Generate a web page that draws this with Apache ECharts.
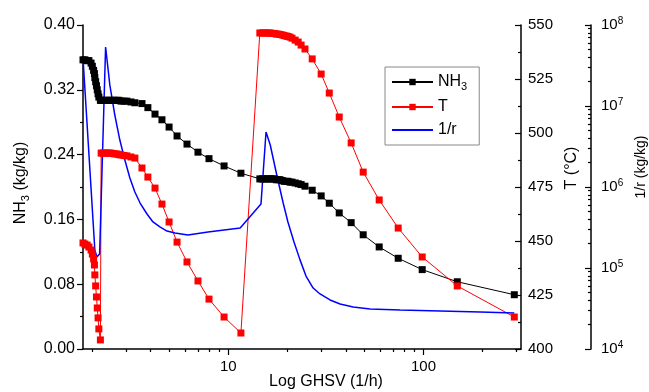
<!DOCTYPE html>
<html><head><meta charset="utf-8">
<script src="https://cdn.jsdelivr.net/npm/echarts@6/dist/echarts.min.js"></script>
<style>html,body{margin:0;padding:0;background:#fff}#c{width:649px;height:392px}</style>
</head><body><div id="c"></div>
<script>
// Shared GHSV values (1/h) for NH3 and T markers
const ghsv = [1.80, 1.84, 1.89, 1.93, 1.98, 2.01, 2.04, 2.06, 2.07, 2.09, 2.11, 2.13, 2.15, 2.17, 2.21,
  2.23, 2.28, 2.33, 2.39, 2.45, 2.50, 2.56, 2.62, 2.69, 2.75, 2.82, 2.92, 3.02, 3.17, 3.32, 3.61, 3.87, 4.21, 4.57, 4.97, 5.46, 6.14, 6.99, 7.96, 9.51, 11.6,
  14.5, 14.9, 15.2, 15.6, 16.0, 16.4, 16.8, 17.2, 17.6, 18.0, 18.4, 18.9, 19.3, 19.8, 20.2, 20.7, 21.2, 22.0, 22.8, 23.6, 24.7, 26.9, 29.9, 32.9, 37.0, 42.6, 49.1, 59.3, 74.2, 98.5, 149, 292];
const nh3 = [0.357, 0.357, 0.356, 0.356, 0.353, 0.349, 0.344, 0.340, 0.335, 0.330, 0.325, 0.320, 0.315, 0.311, 0.307,
  0.307, 0.307, 0.307, 0.307, 0.307, 0.307, 0.307, 0.307, 0.307, 0.307, 0.306, 0.306, 0.306, 0.305, 0.304, 0.303, 0.298, 0.290, 0.283, 0.274, 0.263, 0.253, 0.243, 0.235, 0.226, 0.217,
  0.210, 0.210, 0.210, 0.210, 0.210, 0.210, 0.210, 0.210, 0.209, 0.209, 0.209, 0.208, 0.207, 0.207, 0.207, 0.206, 0.206, 0.205, 0.204, 0.203, 0.201, 0.196, 0.189, 0.180, 0.168, 0.156, 0.141, 0.126, 0.112, 0.098, 0.083, 0.067];
const temp = [449.1, 448.6, 448.1, 447.2, 445.8, 443.9, 441.7, 438.9, 434.3, 429.2, 424.1, 419.0, 414.4, 409.3, 404.2,
  490.7, 490.7, 490.7, 490.7, 490.7, 490.7, 490.5, 490.3, 490.3, 490.0, 489.8, 489.6, 489.4, 488.9, 488.4, 483.8, 479.6, 474.5, 467.1, 458.8, 449.5, 440.3, 431.5, 423.1, 414.8, 407.4,
  546.3, 546.3, 546.3, 546.3, 546.3, 546.3, 546.1, 546.1, 545.8, 545.8, 545.6, 545.4, 545.1, 544.9, 544.7, 544.4, 543.9, 543.0, 542.1, 540.7, 538.9, 534.3, 527.3, 518.5, 507.4, 495.4, 481.9, 469.0, 456.0, 442.6, 429.2, 414.8];
// 1/r curve
const rGhsv = [1.80, 2.07, 2.12, 2.19, 2.35, 2.47, 2.62, 2.78, 2.95, 3.13, 3.32, 3.53, 3.83, 4.11, 4.46, 4.85, 5.33, 6.21, 7.87, 11.5,
  14.7, 15.6, 16.4, 17.8, 19.1, 20.2, 21.7, 23.3, 25.0, 27.2, 29.5, 33.2, 37.4, 43.6, 53.3, 75.9, 122, 195, 292];
const rInv = [3.92e7, 1.67e5, 1.37e5, 1.49e5, 5.35e7, 1.82e7, 7.74e6, 3.80e6, 2.15e6, 1.29e6, 8.67e5, 6.34e5, 4.64e5, 3.70e5, 3.21e5, 2.86e5, 2.71e5, 2.55e5, 2.78e5, 3.12e5,
  6.17e5, 4.78e6, 3.30e6, 1.33e6, 6.34e5, 3.70e5, 2.09e5, 1.26e5, 7.96e4, 5.66e4, 4.78e4, 4.03e4, 3.59e4, 3.30e4, 3.12e4, 3.03e4, 2.94e4, 2.86e4, 2.78e4];

const xMin = 1.8, xMax = 316;
const xMajorTicks = [10, 100];
const xMinorTicks = [2, 3, 4, 5, 6, 7, 8, 9, 20, 30, 40, 50, 60, 70, 80, 90, 200, 300];
const rMin = 1e4, rMax = 1e8;
const rMinorTicks = [];
for (let e = 4; e < 8; e++) for (let m = 2; m <= 9; m++) rMinorTicks.push(m * Math.pow(10, e));

const F = '"Liberation Sans", Arial, sans-serif';
const L = Math.log10;
const black = '#000';
const subStyle = { fontSize: 11, fontFamily: F, color: black, verticalAlign: 'bottom', padding: [9, 0, 0, 0] };
const supStyle = { fontSize: 10, fontFamily: F, color: black, verticalAlign: 'top', padding: [0, 0, 8, 0] };

const chart = echarts.init(document.getElementById('c'));
const axLine = { show: true, onZero: false, lineStyle: { color: black, width: 1.5 } };
const tick = (inside, len) => ({ show: true, inside: inside, length: len, lineStyle: { color: black, width: 1.2 } });

chart.setOption({
  animation: false,
  backgroundColor: '#fff',
  grid: { left: 83, right: 128, top: 25, bottom: 43, containLabel: false, outerBoundsMode: 'none' },
  legend: {
    orient: 'vertical', left: 385, top: 67,
    padding: [7, 12, 7, 6], itemGap: 7, itemWidth: 41, itemHeight: 8,
    borderColor: '#888', borderWidth: 1,
    textStyle: { fontSize: 16, fontFamily: F, color: black, rich: { sub: subStyle } },
    formatter: n => n === 'NH3' ? 'NH{sub|3}' : n,
    data: ['NH3', 'T', { name: '1/r', itemStyle: { opacity: 0 } }]
  },
  xAxis: [
    { type: 'log', min: xMin, max: xMax, show: false, position: 'bottom' },
    { type: 'value', min: L(xMin), max: L(xMax), position: 'bottom',
      axisLine: axLine, splitLine: { show: false },
      axisTick: Object.assign(tick(false, 6), { customValues: xMajorTicks.map(L) }),
      axisLabel: { customValues: xMajorTicks.map(L), formatter: v => String(Math.round(Math.pow(10, v))),
        fontSize: 15, fontFamily: F, color: black, margin: 10 },
      name: 'Log GHSV (1/h)', nameLocation: 'middle', nameGap: 25, nameMoveOverlap: false,
      nameTextStyle: { fontSize: 16, fontFamily: F, color: black, padding: [0, 0, 0, 48] } },
    { type: 'value', min: L(xMin), max: L(xMax), position: 'bottom',
      axisLine: { show: false }, splitLine: { show: false }, axisLabel: { show: false },
      axisTick: Object.assign(tick(false, 3), { customValues: xMinorTicks.map(L) }) }
  ],
  yAxis: [
    { type: 'value', position: 'left', min: 0, max: 0.4, interval: 0.08,
      axisLine: axLine, splitLine: { show: false },
      axisTick: tick(false, 6),
      minorTick: { show: true, splitNumber: 2, length: 3, lineStyle: { color: black, width: 1.2 } },
      axisLabel: { formatter: v => v.toFixed(2), fontSize: 16, fontFamily: F, color: black, margin: 8 },
      name: 'NH{sub|3} (kg/kg)', nameLocation: 'middle', nameRotate: 90, nameGap: 52,
      nameTextStyle: { fontSize: 16, fontFamily: F, color: black, padding: [0, 0, 0, 8], rich: { sub: subStyle } } },
    { type: 'value', position: 'right', min: 400, max: 550, interval: 25,
      axisLine: axLine, splitLine: { show: false },
      axisTick: tick(true, 6),
      minorTick: { show: true, splitNumber: 2, length: 3, lineStyle: { color: black, width: 1.2 } },
      axisLabel: { fontSize: 15, fontFamily: F, color: black, margin: 7 },
      name: 'T (°C)', nameLocation: 'middle', nameRotate: 90, nameGap: 38,
      nameTextStyle: { fontSize: 16, fontFamily: F, color: black, padding: [0, 0, 0, 38] } },
    { type: 'log', logBase: 10, position: 'right', offset: 70, min: rMin, max: rMax,
      axisLine: axLine, splitLine: { show: false },
      axisTick: tick(true, 6),
      axisLabel: { formatter: v => '10{sup|' + Math.round(L(v)) + '}', fontSize: 15, fontFamily: F, color: black, margin: 10,
        rich: { sup: supStyle } },
      name: '1/r (kg/kg)', nameLocation: 'middle', nameRotate: 90, nameGap: 42,
      nameTextStyle: { fontSize: 14, fontFamily: F, color: black, padding: [0, 0, 0, 40] } },
    { type: 'value', position: 'right', offset: 70, min: L(rMin), max: L(rMax),
      axisLine: { show: false }, splitLine: { show: false }, axisLabel: { show: false },
      axisTick: Object.assign(tick(true, 3), { customValues: rMinorTicks.map(L) }) }
  ],
  series: [
    { name: 'NH3', type: 'line', xAxisIndex: 0, yAxisIndex: 0,
      data: ghsv.map((x, i) => [x, nh3[i]]),
      symbol: 'rect', symbolSize: 7, color: black,
      itemStyle: { color: black }, lineStyle: { color: black, width: 1 } },
    { name: 'T', type: 'line', xAxisIndex: 0, yAxisIndex: 1,
      data: ghsv.map((x, i) => [x, temp[i]]),
      symbol: 'rect', symbolSize: 7, color: '#ff0000',
      itemStyle: { color: '#ff0000' }, lineStyle: { color: '#ff0000', width: 1 } },
    { name: '1/r', type: 'line', xAxisIndex: 0, yAxisIndex: 2,
      data: rGhsv.map((x, i) => [x, rInv[i]]),
      symbol: 'none', color: '#0000ff', lineStyle: { color: '#0000ff', width: 1.5 } }
  ]
});
</script>
</body></html>
